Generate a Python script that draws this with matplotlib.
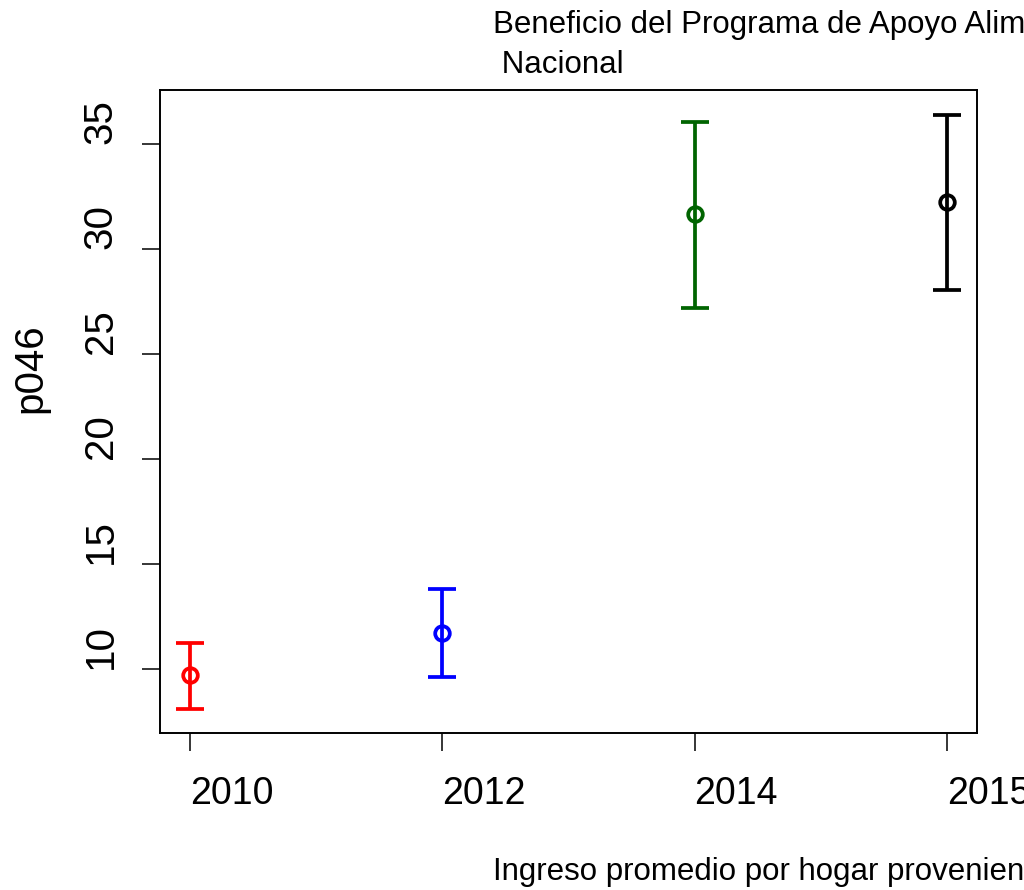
import matplotlib
matplotlib.use("Agg")
import numpy as np
import matplotlib.pyplot as plt

plt.rcParams['font.family'] = ['Liberation Sans', 'DejaVu Sans']

# Data
years = ["2010", "2012", "2014", "2015"]
means = [9.71, 11.71, 31.67, 32.24]
lower = [8.10, 9.62, 27.19, 28.05]
upper = [11.24, 13.81, 36.05, 36.38]
colors = ["red", "blue", "#006400", "black"]

fig = plt.figure(figsize=(10.24, 8.90), dpi=100)
ax = fig.add_axes([160 / 1024, (890 - 733) / 890, 817 / 1024, 643 / 890])

x = np.arange(1, len(years) + 1)
for i in range(len(years)):
    ax.errorbar(x[i], means[i],
                yerr=[[means[i] - lower[i]], [upper[i] - means[i]]],
                color=colors[i], elinewidth=2.7, capsize=10, capthick=2.7,
                marker="o", markersize=10.5, markerfacecolor="none",
                markeredgewidth=2.7, linestyle="none")

ax.set_xlim(0.88, 4.12)
ax.set_ylim(6.95, 37.57)
ax.set_xticks(x)
ax.set_xticklabels(years, fontsize=27, ha="left")
yt = [10, 15, 20, 25, 30, 35]
ax.set_yticks(yt)
ax.set_yticklabels([str(v) for v in yt], rotation=90, va="bottom", fontsize=29)

ax.tick_params(axis="both", direction="out", length=13, width=1.1)
ax.tick_params(axis="x", pad=18)
ax.tick_params(axis="y", pad=16)
for sp in ax.spines.values():
    sp.set_linewidth(1.4)

fig.text(493 / 1024, 1 - 10 / 890,
         "Beneficio del Programa de Apoyo Alimentario (PAL)\n Nacional",
         fontsize=22.5, ha="left", va="top", linespacing=1.45)
fig.text(493 / 1024, 1 - 872 / 890,
         "Ingreso promedio por hogar proveniente del",
         fontsize=22.5, ha="left", va="center")
fig.text(30 / 1024, 1 - 368 / 890, "p046", fontsize=29, rotation=90,
         ha="center", va="center")

fig.savefig("out.png", dpi=100)
